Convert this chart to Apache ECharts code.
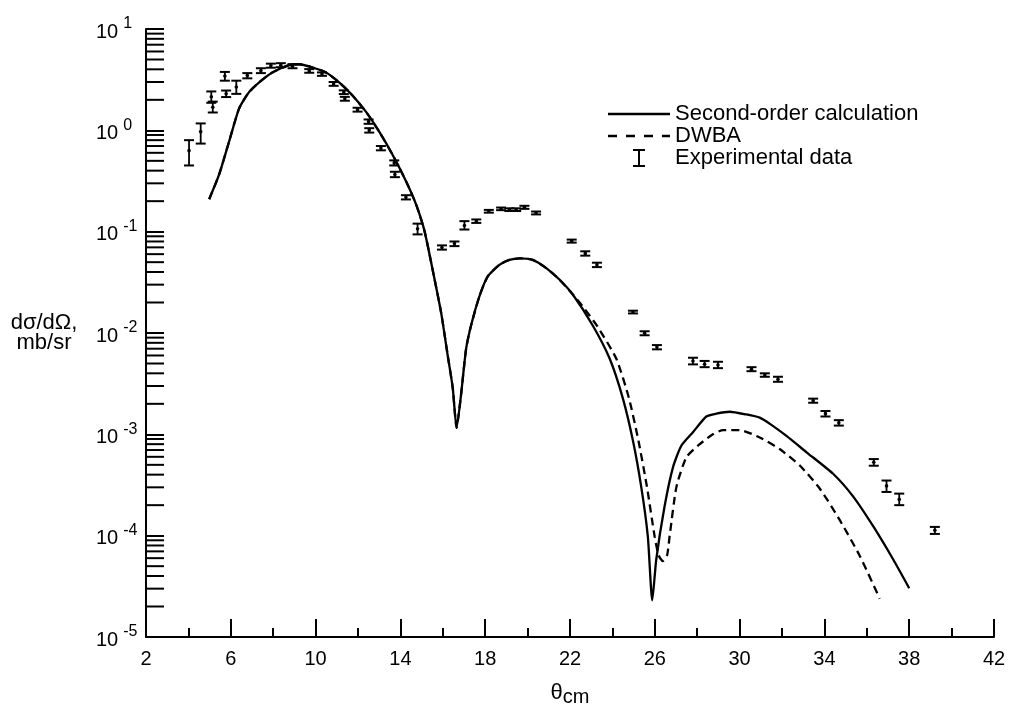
<!DOCTYPE html>
<html>
<head>
<meta charset="utf-8">
<script src="https://cdn.jsdelivr.net/npm/echarts@6/dist/echarts.min.js"></script>
<style>html,body{margin:0;padding:0;background:#fff}#c{width:1017px;height:712px}</style>
</head>
<body>
<div id="c"></div>
<script>
// ---- Data ----
const solidX = [4.98, 5.45, 5.92, 6.39, 6.86, 7.34, 7.96, 8.75, 9.23, 9.85, 10.49, 11.11, 11.74, 12.38, 13.00, 13.63, 14.26, 14.73, 15.13, 15.52, 15.92, 16.23, 16.47, 16.65, 16.86, 17.10, 17.33, 17.73, 18.12, 18.67, 19.14, 19.62, 20.24, 20.88, 21.50, 22.13, 23.08, 23.87, 24.49, 24.97, 25.36, 25.67, 25.88, 26.07, 26.46, 26.86, 27.25, 27.80, 28.43, 28.90, 29.53, 30.32, 30.95, 31.50, 32.21, 33.16, 34.41, 35.36, 36.30, 37.24, 38.00];
const solidY = [0.209, 0.367, 0.776, 1.64, 2.38, 2.98, 3.73, 4.40, 4.49, 4.17, 3.73, 2.98, 2.21, 1.52, 0.971, 0.575, 0.317, 0.188, 0.103, 0.0421, 0.0159, 0.00603, 0.00286, 0.00116, 0.00245, 0.0070, 0.0118, 0.0231, 0.0362, 0.0471, 0.0527, 0.0546, 0.0527, 0.0437, 0.0337, 0.0240, 0.0118, 0.0056, 0.00228, 0.000863, 0.000303, 0.0000989, 0.0000230, 0.0000585, 0.000194, 0.000475, 0.000771, 0.00105, 0.00150, 0.00160, 0.00167, 0.00157, 0.00146, 0.00124, 0.000964, 0.000665, 0.000408, 0.000243, 0.000124, 0.0000585, 0.0000303];

const dwbaX = [4.98, 5.45, 5.92, 6.39, 6.86, 7.34, 7.96, 8.75, 9.23, 9.85, 10.49, 11.11, 11.74, 12.38, 13.00, 13.63, 14.26, 14.73, 15.13, 15.52, 15.92, 16.23, 16.47, 16.65, 16.86, 17.10, 17.33, 17.73, 18.12, 18.67, 19.14, 19.62, 20.24, 20.88, 21.50, 22.13, 22.58, 23.27, 24.18, 24.78, 25.23, 25.63, 25.99, 26.18, 26.38, 26.58, 26.70, 27.02, 27.49, 28.12, 28.74, 29.22, 30.00, 30.95, 31.89, 32.84, 33.78, 34.72, 35.67, 36.61];
const dwbaY = [0.209, 0.367, 0.776, 1.64, 2.38, 2.98, 3.73, 4.40, 4.49, 4.17, 3.73, 2.98, 2.21, 1.52, 0.971, 0.575, 0.317, 0.188, 0.103, 0.0421, 0.0159, 0.00603, 0.00286, 0.00116, 0.00245, 0.0070, 0.0118, 0.0231, 0.0362, 0.0471, 0.0527, 0.0546, 0.0527, 0.0437, 0.0337, 0.0240, 0.0185, 0.0118, 0.0056, 0.00228, 0.000863, 0.000303, 0.0000989, 0.000064, 0.000056, 0.000064, 0.0000989, 0.000303, 0.000594, 0.000801, 0.00100, 0.00110, 0.00110, 0.000931, 0.000716, 0.000492, 0.000292, 0.000143, 0.0000631, 0.0000239];

const expX    = [4.03, 4.58, 5.08, 5.15, 5.72, 5.78, 6.26, 6.78, 7.42, 7.89, 8.36, 8.91, 9.70, 10.30, 10.85, 11.33, 11.38, 11.98, 12.50, 12.53, 13.08, 13.71, 13.74, 14.26, 14.81, 15.96, 16.55, 17.02, 17.58, 18.17, 18.75, 19.14, 19.46, 19.85, 20.40, 22.08, 22.72, 23.27, 24.97, 25.52, 26.10, 27.80, 28.35, 28.98, 30.56, 31.19, 31.81, 33.47, 34.05, 34.68, 36.33, 36.93, 37.53, 39.21];
const expY    = [0.63, 0.97, 2.14, 1.69, 3.43, 2.29, 2.68, 3.47, 3.88, 4.35, 4.40, 4.30, 3.86, 3.59, 2.87, 2.38, 2.05, 1.60, 1.22, 1.00, 0.668, 0.477, 0.367, 0.218, 0.107, 0.0698, 0.0764, 0.115, 0.127, 0.159, 0.168, 0.165, 0.165, 0.174, 0.153, 0.0807, 0.061, 0.047, 0.0161, 0.00993, 0.00726, 0.0053, 0.00492, 0.00482, 0.00438, 0.00385, 0.00349, 0.00215, 0.0016, 0.0013, 0.00053, 0.00031, 0.000228, 0.000113];
const expLow  = [0.45, 0.74, 1.87, 1.50, 3.09, 2.13, 2.29, 3.26, 3.67, 4.15, 4.20, 4.10, 3.70, 3.45, 2.75, 2.28, 1.96, 1.53, 1.16, 0.95, 0.635, 0.45, 0.345, 0.208, 0.094, 0.0665, 0.072, 0.105, 0.122, 0.154, 0.163, 0.160, 0.160, 0.168, 0.148, 0.078, 0.058, 0.0447, 0.0156, 0.0095, 0.0069, 0.0049, 0.0046, 0.0045, 0.0042, 0.0037, 0.0033, 0.00205, 0.0015, 0.00122, 0.00049, 0.00027, 0.0002, 0.000104];
const expHigh = [0.80, 1.17, 2.42, 1.92, 3.77, 2.47, 3.09, 3.67, 4.10, 4.55, 4.60, 4.50, 4.02, 3.73, 3.00, 2.48, 2.14, 1.67, 1.28, 1.05, 0.70, 0.505, 0.39, 0.229, 0.120, 0.0732, 0.080, 0.127, 0.132, 0.164, 0.173, 0.170, 0.170, 0.180, 0.158, 0.0835, 0.064, 0.0494, 0.0166, 0.0104, 0.0076, 0.0057, 0.0053, 0.0052, 0.0046, 0.0040, 0.0037, 0.00225, 0.0017, 0.00138, 0.00057, 0.00035, 0.00026, 0.000122];

// Axis tick definitions
const yDecadeExponents = [-5, -4, -3, -2, -1, 0];
const yMinorMultipliers = [2, 3, 4, 5, 6, 7, 8, 9];
const legendNames = ['Second-order calculation', 'DWBA', 'Experimental data'];

// ---- Build ----
const FONT = "'Liberation Sans', Arial, Helvetica, sans-serif";
const zip = (xs, ys) => xs.map((x, i) => [x, ys[i]]);
const expData = expX.map((x, i) => [x, expY[i], expLow[i], expHigh[i]]);
const yMinorTicks = [];
yDecadeExponents.forEach(e => yMinorMultipliers.forEach(m => yMinorTicks.push([2, m * Math.pow(10, e)])));

const ICON_SOLID = 'path://M0,0H62V2.3H0Z';
const ICON_DASH = 'path://M0,0H9V2.3H0ZM18,0H27V2.3H18ZM36,0H45V2.3H36ZM54,0H62V2.3H54Z';
const ICON_ERR = 'path://M0,0H12V2H7V16H12V18H0V16H5V2H0Z';

const chart = echarts.init(document.getElementById('c'), null, {renderer: 'canvas'});
chart.setOption({
  animation: false,
  backgroundColor: '#ffffff',
  grid: {left: 146, right: 23, top: 29, bottom: 66, containLabel: false},
  legend: {
    orient: 'vertical', left: 608, top: 103, padding: 0,
    itemWidth: 62, itemHeight: 18, itemGap: 0,
    selectedMode: false,
    textStyle: {fontFamily: FONT, fontSize: 22, color: '#000', lineHeight: 21},
    data: [
      {name: legendNames[0], icon: ICON_SOLID, itemStyle: {color: '#000'}},
      {name: legendNames[1], icon: ICON_DASH, itemStyle: {color: '#000'}},
      {name: legendNames[2], icon: ICON_ERR, itemStyle: {color: '#000'}}
    ]
  },
  xAxis: {
    type: 'value', min: 2, max: 42, interval: 4,
    axisLine: {lineStyle: {color: '#000', width: 2}},
    axisTick: {inside: true, length: 18, lineStyle: {color: '#000', width: 2}},
    minorTick: {show: true, splitNumber: 2, length: 9, lineStyle: {color: '#000', width: 2}},
    splitLine: {show: false},
    axisLabel: {fontFamily: FONT, fontSize: 20, color: '#000', margin: 12},
    name: '{t|θ}{c|cm}', nameLocation: 'middle', nameGap: 42,
    nameTextStyle: {
      color: '#000', fontFamily: FONT,
      rich: {
        t: {fontFamily: FONT, fontSize: 22, color: '#000'},
        c: {fontFamily: FONT, fontSize: 20, color: '#000', padding: [8, 0, 0, 0]}
      }
    }
  },
  yAxis: {
    type: 'log', logBase: 10, min: 1e-5, max: 10, splitNumber: 6,
    axisLine: {lineStyle: {color: '#000', width: 2}},
    axisTick: {inside: true, length: 18, lineStyle: {color: '#000', width: 2}},
    minorTick: {show: false},
    splitLine: {show: false},
    axisLabel: {
      align: 'left', margin: 50, color: '#000',
      formatter: v => '{b|10}{s|' + Math.round(Math.log10(v)) + '}',
      rich: {
        b: {fontFamily: FONT, fontSize: 20, color: '#000', padding: [6, 0, 0, 0]},
        s: {fontFamily: FONT, fontSize: 16, color: '#000', padding: [0, 0, 10, 5]}
      }
    },
    name: 'dσ/dΩ,\nmb/sr', nameLocation: 'middle', nameRotate: 0, nameGap: 102,
    nameTextStyle: {fontFamily: FONT, fontSize: 22, lineHeight: 20, color: '#000', align: 'center', verticalAlign: 'middle'}
  },
  series: [
    {
      name: 'yMinorTicks', type: 'custom', silent: true, clip: false, z: 1,
      data: yMinorTicks, encode: {x: 0, y: 1},
      renderItem: (params, api) => {
        const c = api.coord([api.value(0), api.value(1)]);
        return {type: 'line', shape: {x1: c[0], y1: c[1], x2: c[0] + 18, y2: c[1]}, style: {stroke: '#000', lineWidth: 2}};
      }
    },
    {
      name: legendNames[0], type: 'line', data: zip(solidX, solidY),
      showSymbol: false, symbol: 'none', smooth: 0.2, z: 3,
      lineStyle: {color: '#000', width: 2.3}, itemStyle: {color: '#000'}
    },
    {
      name: legendNames[1], type: 'line', data: zip(dwbaX, dwbaY),
      showSymbol: false, symbol: 'none', smooth: 0.2, z: 4,
      lineStyle: {color: '#000', width: 2.3, type: [8, 5]}, itemStyle: {color: '#000'}
    },
    {
      name: legendNames[2], type: 'custom', data: expData, z: 5,
      encode: {x: 0, y: [1, 2, 3]},
      itemStyle: {color: '#000'},
      renderItem: (params, api) => {
        const x = api.value(0);
        const c = api.coord([x, api.value(1)]);
        const lo = api.coord([x, api.value(2)]);
        const hi = api.coord([x, api.value(3)]);
        const w = 5;
        const st = {stroke: '#000', lineWidth: 2};
        return {type: 'group', children: [
          {type: 'line', shape: {x1: c[0], y1: hi[1], x2: c[0], y2: lo[1]}, style: {stroke: '#000', lineWidth: 1.8}},
          {type: 'line', shape: {x1: c[0] - w, y1: hi[1], x2: c[0] + w, y2: hi[1]}, style: st},
          {type: 'line', shape: {x1: c[0] - w, y1: lo[1], x2: c[0] + w, y2: lo[1]}, style: st},
          {type: 'circle', shape: {cx: c[0], cy: c[1], r: 1.8}, style: {fill: '#000'}}
        ]};
      }
    }
  ]
});
</script>
</body>
</html>
